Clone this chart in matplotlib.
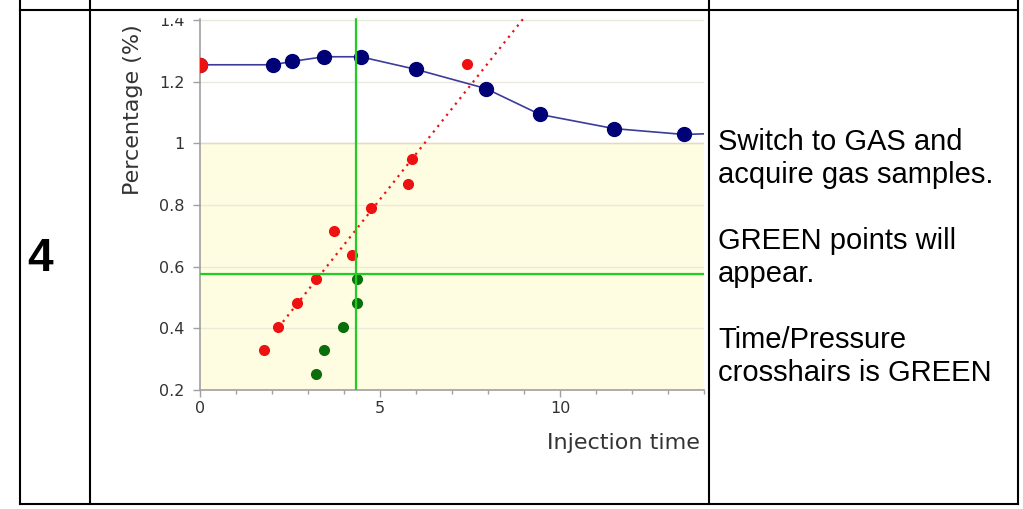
import matplotlib
matplotlib.use('Agg')
import matplotlib.pyplot as plt
from matplotlib.lines import Line2D
from matplotlib.patches import Rectangle
import numpy as np

# --- data ---
blue_x = [0.0, 2.03, 2.56, 3.44, 4.46, 6.0, 7.94, 9.44, 11.5, 13.44]
blue_y = [1.255, 1.255, 1.266, 1.281, 1.281, 1.24, 1.178, 1.094, 1.048, 1.029]
blue_tail_x = [13.44, 14.0]
blue_tail_y = [1.029, 1.031]

red_x = [0.0, 1.77, 2.18, 2.70, 3.21, 3.72, 4.22, 4.75, 5.78, 5.89, 7.43]
red_y = [1.255, 0.330, 0.403, 0.483, 0.561, 0.716, 0.638, 0.790, 0.869, 0.949, 1.256]

green_x = [3.21, 3.44, 3.97, 4.35, 4.35]
green_y = [0.252, 0.330, 0.403, 0.483, 0.561]

fit_x = [2.18, 9.2]
fit_y = [0.403, 1.437]

cross_x = 4.33
cross_y = 0.575

yticks = [0.2, 0.4, 0.6, 0.8, 1.0, 1.2, 1.4]
ytick_labels = ['0.2', '0.4', '0.6', '0.8', '1', '1.2', '1.4']
xticks = [0, 5, 10]

note = ("Switch to GAS and\nacquire gas samples.\n\n"
        "GREEN points will\nappear.\n\n"
        "Time/Pressure\ncrosshairs is GREEN")

W, H = 1023, 509
fig = plt.figure(figsize=(W / 100, H / 100), dpi=100)
fig.patch.set_facecolor('white')

def fx(px):
    return px / W

def fy(py):
    return 1 - py / H

ax = fig.add_axes([fx(200), fy(390), (704 - 200) / W, (390 - 17) / H])
ax.set_xlim(0, 14)
ax.set_ylim(0.2, 1.41)

# yellow band and grid
ax.axhspan(0.2, 1.0, color='#fffde1', zorder=0)
for v in yticks:
    ax.axhline(v, color='#ebe8dc', lw=1, zorder=1)
ax.axhline(1.0, color='#e8d6c6', lw=1, zorder=1)

# series
ax.plot(fit_x, fit_y, color='#ee1111', lw=1.6, ls=(0, (1, 2.2)), zorder=2)
ax.plot(blue_tail_x, blue_tail_y, color='#3b3b9c', lw=1.2, zorder=3)
ax.plot(blue_x, blue_y, color='#3b3b9c', lw=1.2, marker='o', ms=10,
        mfc='#000077', mec='#000077', zorder=3)
ax.plot(red_x[:1], red_y[:1], 'o', color='#ee1111', ms=10, zorder=4)
ax.plot(red_x[1:], red_y[1:], 'o', color='#ee1111', ms=7, zorder=4)
ax.plot(green_x, green_y, 'o', color='#0a6e0a', ms=7, zorder=4)

# crosshairs
ax.axvline(cross_x, color='#22cc22', lw=1.6, zorder=5)
ax.axhline(cross_y, color='#22cc22', lw=1.6, zorder=5)

# axes styling
for s in ['top', 'right']:
    ax.spines[s].set_visible(False)
for s in ['left', 'bottom']:
    ax.spines[s].set_color('#a0a0a0')
    ax.spines[s].set_linewidth(1.2)
ax.set_xticks(xticks)
ax.set_xticks(np.arange(0, 15, 1), minor=True)
ax.set_yticks(yticks)
ax.set_yticklabels(ytick_labels)
ax.tick_params(axis='both', which='major', colors='#a0a0a0', labelcolor='#333333',
               labelsize=11.5, length=5, width=1)
ax.tick_params(axis='x', which='minor', colors='#a0a0a0', length=3, width=1)
ax.tick_params(axis='x', pad=3)
ax.tick_params(axis='y', pad=6)

ax.set_xlabel('Injection time', fontsize=16, color='#333333', loc='right')
ax.xaxis.set_label_coords(0.992, -0.115)
ax.set_ylabel('Percentage (%)', fontsize=16, color='#333333', loc='top')
ax.yaxis.set_label_coords(-0.113, 0.98)

# screenshot crop above the plot area
fig.add_artist(Rectangle((fx(95), fy(17)), fx(705) - fx(95), fy(11) - fy(17),
                         transform=fig.transFigure, color='white', zorder=10))

# table frame
lw = 1.5
for xp in [20, 90, 709, 1018]:
    fig.add_artist(Line2D([fx(xp), fx(xp)], [fy(0), fy(504)], color='black',
                          lw=lw, transform=fig.transFigure, zorder=11))
for yp in [10, 504]:
    fig.add_artist(Line2D([fx(20), fx(1018)], [fy(yp), fy(yp)], color='black',
                          lw=lw, transform=fig.transFigure, zorder=11))

fig.text(fx(27), fy(259), '4', fontsize=33, fontweight='bold',
         family='Liberation Sans', ha='left', va='center')
fig.text(fx(718), fy(128), note, fontsize=21, family='Liberation Sans',
         ha='left', va='top', linespacing=1.225)

fig.savefig('out.png', dpi=100)
